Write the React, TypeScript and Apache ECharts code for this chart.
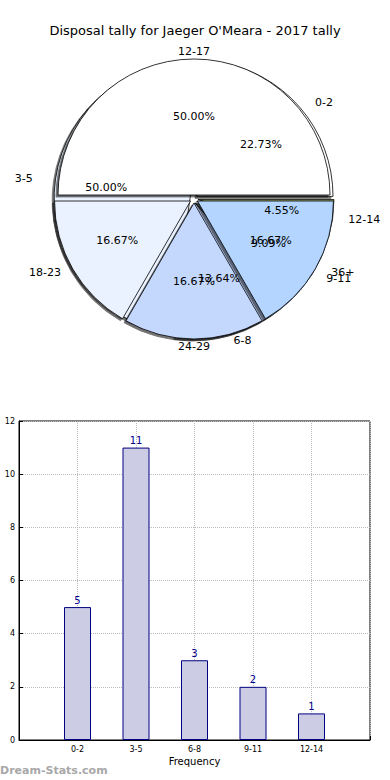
import React, { useEffect, useRef } from "react";
import * as echarts from "echarts";

const titleText = "Disposal tally for Jaeger O'Meara - 2017 tally";

// Pie A (frequency bins)
const binNames = ["0-2", "3-5", "6-8", "9-11", "12-14"];
const binValues = [5, 11, 3, 2, 1];
const binColors = ["#ffffff", "#eaf2ff", "#c4d8fe", "#b3d5ff", "#9aa86a"];

// Pie B (interval bins)
const intNames = ["12-17", "18-23", "24-29", "36+"];
const intValues = [3, 1, 1, 1];
const intColors = ["#ffffff", "#eaf2ff", "#c4d8fe", "#b3d5ff"];

// Bar chart
const barCats = ["0-2", "3-5", "6-8", "9-11", "12-14"];
const barValues = [5, 11, 3, 2, 1];

const FONT = "DejaVu Sans";
const CX = 194;
const CY = 199;
const R = 136;
const OFF = 4;

const sum = (a: number[]) => a.reduce((s, v) => s + v, 0);

// label shifts that stretch the label ring into an ellipse,
// since the reference pie is slightly wider than it is tall
function stretchShifts(values: number[], rho: number, sx: number, sy: number) {
  const total = sum(values);
  let acc = 0;
  return values.map((v) => {
    const mid = ((acc + v / 2) / total) * Math.PI * 2;
    acc += v;
    return [(sx - 1) * rho * Math.cos(mid), -(sy - 1) * rho * Math.sin(mid)];
  });
}

function pieData(names: string[], values: number[], colors: string[] | null, shifts: number[][] | null) {
  return names.map((n, i) => ({
    name: n,
    value: values[i],
    selected: true,
    itemStyle: colors ? { color: colors[i] } : undefined,
    label: shifts
      ? { padding: [0, Math.max(0, -2 * shifts[i][0]), 0, Math.max(0, 2 * shifts[i][0])] }
      : undefined,
  }));
}

function shiftedLabel(shifts: number[][], textOf: (p: any) => string, base: any) {
  const rich: any = {};
  shifts.forEach((s, i) => {
    const h = Math.max(1, Math.round(Math.abs(s[1]) * 2));
    rich["g" + i] = { fontSize: 1, lineHeight: h, height: h };
  });
  return {
    ...base,
    rich,
    formatter: (p: any) => {
      const i = p.dataIndex;
      const g = "{g" + i + "| }";
      const t = textOf(p);
      return shifts[i][1] > 0 ? g + "\n" + t : t + "\n" + g;
    },
  };
}

export default function App() {
  const ref = useRef<HTMLDivElement>(null);
  useEffect(() => {
    if (!ref.current) return;
    const chart = echarts.init(ref.current, null, { renderer: "svg" });
    const pctOf = (total: number) => (p: any) => ((p.value / total) * 100).toFixed(2) + "%";
    const nameOf = (p: any) => p.name;
    const basePie = {
      type: "pie",
      center: [CX, CY],
      startAngle: 0,
      clockwise: false,
      selectedMode: "multiple",
      selectedOffset: OFF,
      avoidLabelOverlap: false,
      labelLine: { show: false },
      labelLayout: { hideOverlap: false },
      emphasis: { disabled: true },
      animation: false,
    };
    const transparent = { color: "rgba(0,0,0,0)", borderWidth: 0, shadowBlur: 0 };
    const pieShadow = {
      borderColor: "#000",
      borderWidth: 0.8,
      shadowColor: "rgba(0,0,0,0.55)",
      shadowBlur: 1,
      shadowOffsetX: -2,
      shadowOffsetY: 2,
    };
    const lbl = {
      show: true,
      position: "inside",
      fontFamily: FONT,
      fontSize: 11,
      lineHeight: 13,
      color: "#000",
    };
    const pctRho = R * 0.6 + OFF;
    const nameRho = R * 1.1 + OFF;
    const binPct = stretchShifts(binValues, pctRho, 1.0, 0.93);
    const intPct = stretchShifts(intValues, pctRho, 1.0, 0.93);
    const binNm = stretchShifts(binValues, nameRho, 1.1, 0.94);
    const intNm = stretchShifts(intValues, nameRho, 1.1, 0.94);
    const option: any = {
      animation: false,
      title: {
        text: titleText,
        left: "center",
        top: 19,
        textStyle: { fontFamily: FONT, fontSize: 13, fontWeight: "normal", color: "#000" },
      },
      grid: {
        left: 19,
        top: 421,
        width: 351,
        height: 319,
        outerBoundsMode: "none",
        containLabel: false,
        show: true,
        borderColor: "#000",
        borderWidth: 1,
        backgroundColor: "#fff",
      },
      xAxis: {
        type: "value",
        min: 0,
        max: 6,
        interval: 1,
        name: "Frequency",
        nameLocation: "middle",
        nameGap: 16,
        nameTextStyle: { fontFamily: FONT, fontSize: 10, color: "#000" },
        axisLine: { show: true, lineStyle: { color: "#000" } },
        axisTick: { show: true, inside: true, length: 4, lineStyle: { color: "#000" } },
        axisLabel: {
          fontFamily: FONT,
          fontSize: 8,
          color: "#000",
          margin: 5,
          formatter: (v: number) => barCats[v - 1] || "",
        },
        splitLine: { show: true, lineStyle: { color: "#bbb", type: "dotted", width: 1 } },
      },
      yAxis: {
        type: "value",
        min: 0,
        max: 12,
        interval: 2,
        name: "Disposal Tally",
        nameLocation: "middle",
        nameGap: 22,
        nameRotate: 90,
        nameTextStyle: { fontFamily: FONT, fontSize: 10, color: "#000" },
        axisLine: { show: true, lineStyle: { color: "#000" } },
        axisTick: { show: true, inside: true, length: 4, lineStyle: { color: "#000" } },
        axisLabel: { fontFamily: FONT, fontSize: 8, color: "#000", margin: 4 },
        splitLine: { show: true, lineStyle: { color: "#bbb", type: "dotted", width: 1 } },
      },
      series: [
        {
          ...basePie,
          z: 1,
          radius: [0, R],
          data: pieData(binNames, binValues, binColors, null),
          itemStyle: pieShadow,
          label: { show: false },
        },
        {
          ...basePie,
          z: 2,
          radius: [0, R],
          data: pieData(intNames, intValues, intColors, null),
          itemStyle: pieShadow,
          label: { show: false },
        },
        // percentage labels at 0.6R
        {
          ...basePie,
          z: 3,
          silent: true,
          radius: [0, R * 1.2],
          data: pieData(binNames, binValues, null, binPct),
          itemStyle: transparent,
          label: shiftedLabel(binPct, pctOf(sum(binValues)), lbl),
        },
        {
          ...basePie,
          z: 3,
          silent: true,
          radius: [0, R * 1.2],
          data: pieData(intNames, intValues, null, intPct),
          itemStyle: transparent,
          label: shiftedLabel(intPct, pctOf(sum(intValues)), lbl),
        },
        // name labels at 1.1R
        {
          ...basePie,
          z: 3,
          silent: true,
          radius: [0, R * 2.2],
          data: pieData(binNames, binValues, null, binNm),
          itemStyle: transparent,
          label: shiftedLabel(binNm, nameOf, lbl),
        },
        {
          ...basePie,
          z: 3,
          silent: true,
          radius: [0, R * 2.2],
          data: pieData(intNames, intValues, null, intNm),
          itemStyle: transparent,
          label: shiftedLabel(intNm, nameOf, lbl),
        },
        {
          type: "bar",
          barWidth: 27,
          data: barValues.map((v, i) => [i + 1, v]),
          itemStyle: { color: "#cccce4", borderColor: "#000080", borderWidth: 1 },
          label: {
            show: true,
            position: "top",
            distance: 2,
            fontFamily: FONT,
            fontSize: 10,
            color: "#00008b",
          },
          emphasis: { disabled: true },
        },
      ],
      graphic: [
        {
          type: "text",
          left: 0,
          top: 765,
          style: {
            text: "Dream-Stats.com",
            fontFamily: FONT,
            fontSize: 11,
            fontWeight: "bold",
            fill: "#a8a8a8",
          },
        },
      ],
    };
    chart.setOption(option);
    return () => chart.dispose();
  }, []);
  return (
    <div
      ref={ref}
      style={{ position: "fixed", left: 0, top: 0, width: 390, height: 780, background: "#fff" }}
    />
  );
}
